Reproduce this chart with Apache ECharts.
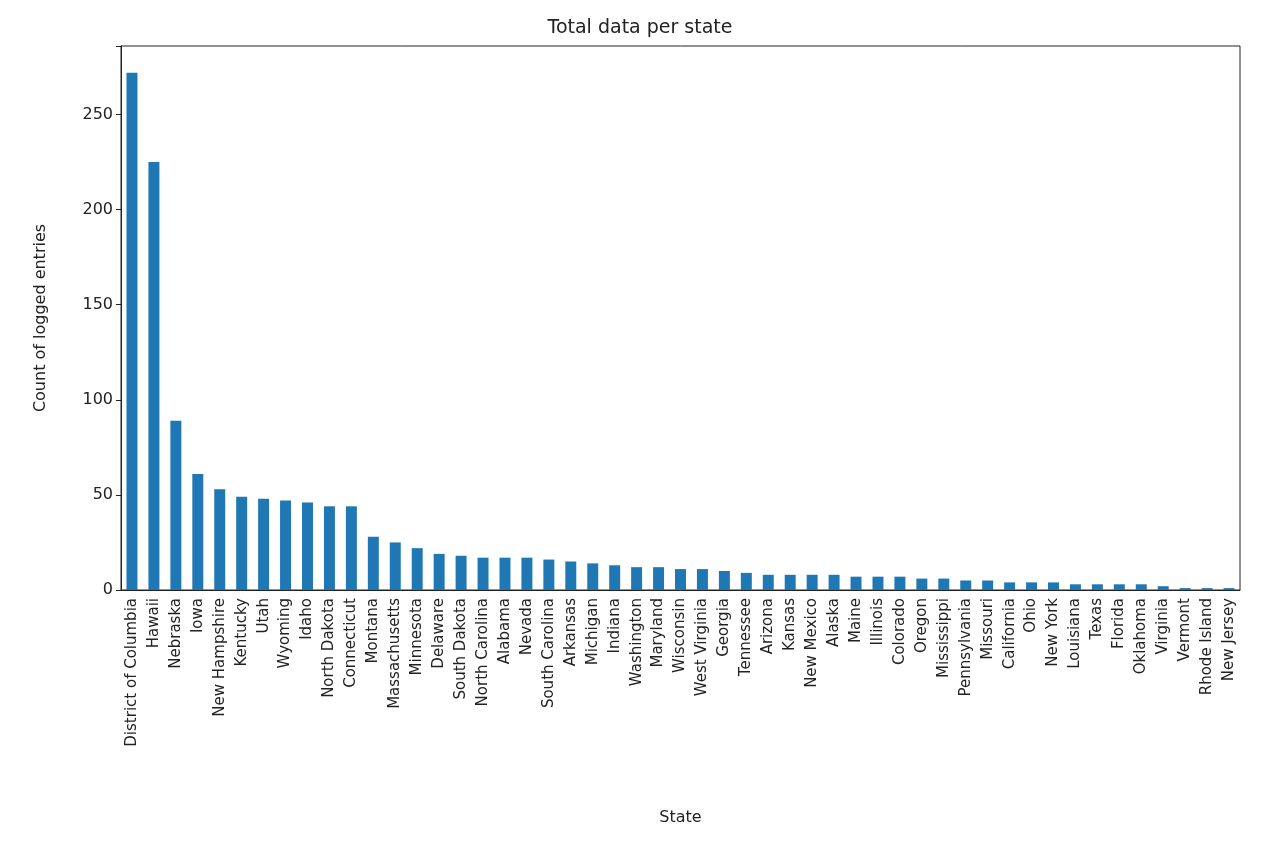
<!DOCTYPE html>
<html lang="en">
<head>
    <meta charset="UTF-8">
    <title>Total data per state</title>
</head>
<body style="margin:0">
<div id="main" style="width:1280px;height:852px;"></div>
<script src="https://cdn.jsdelivr.net/npm/echarts@6/dist/echarts.min.js"></script>
<script>
var states = ['District of Columbia','Hawaii','Nebraska','Iowa','New Hampshire','Kentucky','Utah','Wyoming','Idaho','North Dakota','Connecticut','Montana','Massachusetts','Minnesota','Delaware','South Dakota','North Carolina','Alabama','Nevada','South Carolina','Arkansas','Michigan','Indiana','Washington','Maryland','Wisconsin','West Virginia','Georgia','Tennessee','Arizona','Kansas','New Mexico','Alaska','Maine','Illinois','Colorado','Oregon','Mississippi','Pennsylvania','Missouri','California','Ohio','New York','Louisiana','Texas','Florida','Oklahoma','Virginia','Vermont','Rhode Island','New Jersey'];
var counts = [272,225,89,61,53,49,48,47,46,44,44,28,25,22,19,18,17,17,17,16,15,14,13,12,12,11,11,10,9,8,8,8,8,7,7,7,6,6,5,5,4,4,4,3,3,3,3,2,1,1,1];
var yTicks = [0,50,100,150,200,250];

var chart = echarts.init(document.getElementById('main'));
var txt = {color:'#222', fontFamily:'DejaVu Sans'};
chart.setOption({
    animation: false,
    title: {text:'Total data per state', left:'center', top:14,
        textStyle:{color:'#222', fontFamily:'DejaVu Sans', fontSize:19, fontWeight:'normal'}},
    grid: {left:121, right:40, top:46, bottom:262, show:true, borderColor:'#222', borderWidth:1},
    xAxis: {type:'category', data:states, name:'State', nameLocation:'middle', nameGap:220,
        nameTextStyle:Object.assign({fontSize:16}, txt),
        axisLine:{lineStyle:{color:'#222'}}, axisTick:{alignWithLabel:true, lineStyle:{color:'#222'}},
        axisLabel:Object.assign({rotate:90, interval:0, fontSize:15}, txt)},
    yAxis: {type:'value', min:0, max:286, interval:50, name:'Count of logged entries',
        nameLocation:'middle', nameGap:72, nameTextStyle:Object.assign({fontSize:16}, txt),
        splitLine:{show:false}, axisLine:{show:true, lineStyle:{color:'#222'}},
        axisTick:{show:true, lineStyle:{color:'#222'}},
        axisLabel:Object.assign({fontSize:16, formatter:function(v){return yTicks.indexOf(v)>=0?v:'';}}, txt)},
    series: [{type:'bar', data:counts, barWidth:'50%', itemStyle:{color:'#1f77b4'}}]
});
</script>
</body>
</html>
